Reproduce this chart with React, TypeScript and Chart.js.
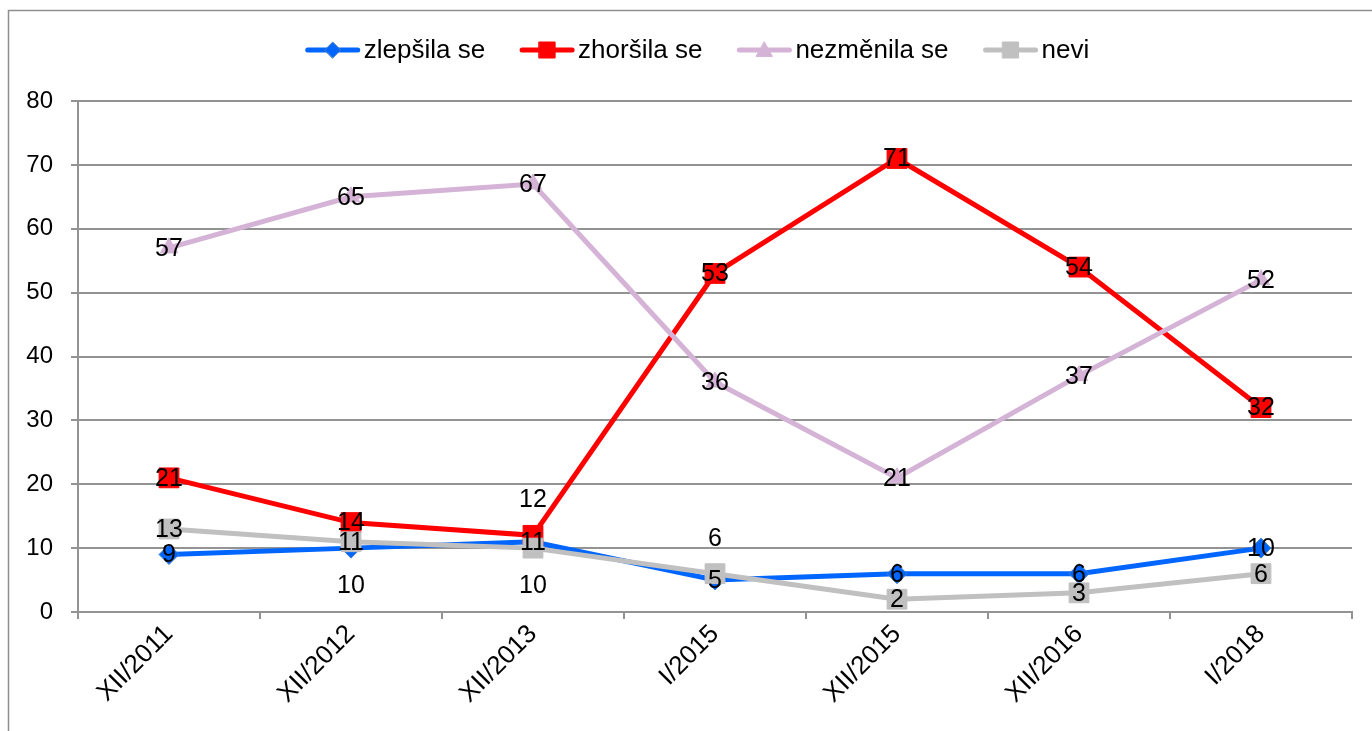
import React, { useEffect, useRef } from "react";
import { Chart, registerables } from "chart.js";

Chart.register(...registerables);

const categories = ["XII/2011", "XII/2012", "XII/2013", "I/2015", "XII/2015", "XII/2016", "I/2018"];
const seriesNames = ["zlepšila se", "zhoršila se", "nezměnila se", "nevi"];
const zlepsila = [9, 10, 11, 5, 6, 6, 10];
const zhorsila = [21, 14, 12, 53, 71, 54, 32];
const nezmenila = [57, 65, 67, 36, 21, 37, 52];
const nevi = [13, 11, 10, 6, 2, 3, 6];
const yTicks = [0, 10, 20, 30, 40, 50, 60, 70, 80];

// data label placement per series/point: c = centre, a = above, b = below
const labelPlacement = [
  ["c", "b", "c", "c", "c", "c", "c"],
  ["c", "c", "a", "c", "c", "c", "c"],
  ["c", "c", "c", "c", "c", "c", "c"],
  ["c", "c", "b", "a", "c", "c", "c"],
];

const FONT = '"Liberation Sans", Arial, sans-serif';
const GRID = "#939393";
const COLORS = ["#0066FF", "#FF0000", "#D4B3D6", "#C0C0C0"];
const MARKERS = ["rectRot", "rect", "triangle", "rect"];
const RADII = [10, 14, 10, 14];

function drawMarker(ctx: CanvasRenderingContext2D, style: string, x: number, y: number, s: number, fill: string, stroke: string) {
  ctx.save();
  ctx.fillStyle = fill;
  ctx.strokeStyle = stroke;
  ctx.lineWidth = 1;
  ctx.beginPath();
  if (style === "rectRot") {
    ctx.moveTo(x - s, y);
    ctx.lineTo(x, y - s);
    ctx.lineTo(x + s, y);
    ctx.lineTo(x, y + s);
    ctx.closePath();
  } else if (style === "rect") {
    ctx.rect(x - s, y - s, 2 * s, 2 * s);
  } else {
    ctx.moveTo(x, y - s);
    ctx.lineTo(x + s, y + s * 0.8);
    ctx.lineTo(x - s, y + s * 0.8);
    ctx.closePath();
  }
  ctx.fill();
  ctx.stroke();
  ctx.restore();
}

const framePlugin = {
  id: "frame",
  beforeDraw(chart: any) {
    const ctx = chart.ctx;
    ctx.save();
    ctx.fillStyle = "#ffffff";
    ctx.fillRect(0, 0, chart.width, chart.height);
    ctx.strokeStyle = "#8f8f8f";
    ctx.lineWidth = 1.5;
    ctx.strokeRect(8.5, 10.5, chart.width + 20, chart.height + 20);
    ctx.restore();
  },
};

const legendPlugin = {
  id: "customLegend",
  afterDraw(chart: any) {
    const ctx = chart.ctx;
    ctx.save();
    ctx.font = `26px ${FONT}`;
    const lineW = 56;
    const gapText = 3;
    const gapItem = 34;
    const widths = seriesNames.map((n) => lineW + gapText + ctx.measureText(n).width);
    const total = widths.reduce((a, b) => a + b, 0) + gapItem * (seriesNames.length - 1);
    let x = 697 - total / 2;
    const y = 50;
    const markerSizes = [8, 8, 8, 8];
    seriesNames.forEach((name, i) => {
      ctx.strokeStyle = COLORS[i];
      ctx.lineWidth = 5;
      ctx.lineCap = "round";
      ctx.beginPath();
      ctx.moveTo(x + 3, y);
      ctx.lineTo(x + lineW - 3, y);
      ctx.stroke();
      drawMarker(ctx, MARKERS[i], x + lineW / 2, y, markerSizes[i], COLORS[i], i === 0 ? "#4A7EBB" : COLORS[i]);
      ctx.fillStyle = "#000";
      ctx.textAlign = "left";
      ctx.textBaseline = "middle";
      ctx.fillText(name, x + lineW + gapText, y + 1);
      x += widths[i] + gapItem;
    });
    ctx.restore();
  },
};

const labelsPlugin = {
  id: "pointLabels",
  afterDatasetsDraw(chart: any) {
    const ctx = chart.ctx;
    ctx.save();
    ctx.font = `25px ${FONT}`;
    ctx.fillStyle = "#000";
    ctx.textAlign = "center";
    ctx.textBaseline = "middle";
    chart.data.datasets.forEach((ds: any, di: number) => {
      const meta = chart.getDatasetMeta(di);
      meta.data.forEach((el: any, i: number) => {
        const p = labelPlacement[di][i];
        const off = p === "a" ? -36 : p === "b" ? 37 : 0;
        ctx.fillText(String(ds.data[i]), el.x, el.y + off + 1);
      });
    });
    ctx.restore();
  },
};

export default function App() {
  const ref = useRef<HTMLCanvasElement | null>(null);
  useEffect(() => {
    if (!ref.current) return;
    const values = [zlepsila, zhorsila, nezmenila, nevi];
    const chart = new Chart(ref.current, {
      type: "line",
      data: {
        labels: categories,
        datasets: values.map((v, i) => ({
          label: seriesNames[i],
          data: v,
          borderColor: COLORS[i],
          backgroundColor: COLORS[i],
          borderWidth: 5,
          tension: 0,
          fill: false,
          pointStyle: MARKERS[i] as any,
          pointRadius: RADII[i],
          pointHoverRadius: RADII[i],
          pointBackgroundColor: COLORS[i],
          pointBorderColor: i === 0 ? "#4A7EBB" : COLORS[i],
          pointBorderWidth: 1,
          order: 4 - i,
        })),
      },
      options: {
        responsive: false,
        animation: false,
        devicePixelRatio: 1,
        layout: { padding: { top: 101, right: 20, left: 0, bottom: 0 } },
        plugins: {
          legend: { display: false },
          tooltip: { enabled: false },
        },
        scales: {
          x: {
            offset: true,
            grid: { display: true, drawOnChartArea: false, offset: true, tickLength: 7, color: GRID, lineWidth: 2 },
            border: { display: true, color: GRID, width: 2 },
            ticks: { color: "#000", font: { family: FONT, size: 26 }, maxRotation: 45, minRotation: 45, padding: 0 },
            afterFit: (s: any) => {
              s.height = 119;
            },
          },
          y: {
            min: 0,
            max: 80,
            afterBuildTicks: (s: any) => {
              s.ticks = yTicks.map((v) => ({ value: v }));
            },
            grid: { color: GRID, lineWidth: 2, tickLength: 7 },
            border: { display: true, color: GRID, width: 2 },
            ticks: { color: "#000", font: { family: FONT, size: 24 }, padding: 18 },
            afterFit: (s: any) => {
              s.width = 78;
            },
          },
        },
      },
      plugins: [framePlugin, legendPlugin, labelsPlugin],
    });
    return () => chart.destroy();
  }, []);
  return (
    <div style={{ position: "fixed", left: 0, top: 0, width: 1372, height: 731, overflow: "hidden" }}>
      <canvas ref={ref} width={1372} height={731} style={{ display: "block", width: 1372, height: 731 }} />
    </div>
  );
}
